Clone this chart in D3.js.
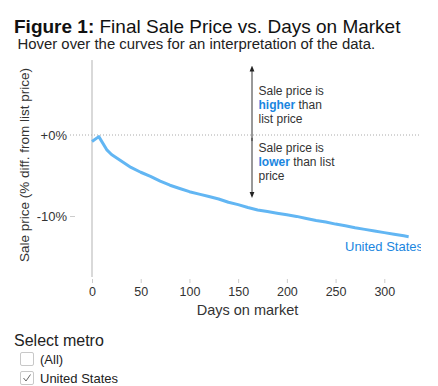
<!DOCTYPE html>
<html>
<head>
<meta charset="utf-8">
<script src="https://cdn.jsdelivr.net/npm/d3@7"></script>
<style>
  html, body { margin: 0; padding: 0; background: #fff; }
  svg { display: block; font-family: "Liberation Sans", Arial, Helvetica, sans-serif; }
</style>
</head>
<body>
<svg id="chart" width="438" height="386"></svg>
<script>
// ---- data ----
const seriesName = "United States";
const days = [0, 7, 15, 20, 30, 40, 50, 60, 70, 80, 90, 100, 110, 120, 130, 140, 150, 160, 170, 180, 190, 200, 210, 220, 230, 240, 250, 260, 270, 280, 290, 300, 310, 320, 325];
const pctDiff = [-0.8, -0.2, -1.8, -2.4, -3.2, -4.0, -4.6, -5.1, -5.7, -6.2, -6.6, -7.0, -7.3, -7.6, -7.9, -8.3, -8.6, -8.95, -9.25, -9.45, -9.65, -9.85, -10.05, -10.3, -10.55, -10.75, -11.0, -11.2, -11.45, -11.65, -11.85, -12.05, -12.25, -12.45, -12.55];
const xTicks = [0, 50, 100, 150, 200, 250, 300];
const yTicks = [0, -10];
const metroOptions = ["(All)", "United States"];
const metroChecked = [false, true];

const svg = d3.select("#chart");

// ---- scales ----
const x = d3.scaleLinear().domain([0, 300]).range([92, 384.3]);
const y = d3.scaleLinear().domain([0, -10]).range([135, 216]);
const yTop = 9.25;

// ---- title ----
const title = svg.append("text").attr("x", 14).attr("y", 33)
  .style("font-size", "19px").attr("fill", "#111");
title.append("tspan").style("font-weight", "bold").text("Figure 1:");
title.append("tspan").text(" Final Sale Price vs. Days on Market");

svg.append("text").attr("x", 17.5).attr("y", 48.5)
  .style("font-size", "14.9px").attr("fill", "#222")
  .text("Hover over the curves for an interpretation of the data.");

// ---- vertical axis line ----
svg.append("line")
  .attr("x1", x(0)).attr("x2", x(0))
  .attr("y1", y(yTop)).attr("y2", 277)
  .attr("stroke", "#b3b3b3").attr("stroke-width", 1);

// ---- zero reference line ----
svg.append("line")
  .attr("x1", 70).attr("x2", 421)
  .attr("y1", y(0)).attr("y2", y(0))
  .attr("stroke", "#aaa").attr("stroke-width", 1)
  .attr("stroke-dasharray", "1,2");

// ---- y axis ----
const yAxis = svg.append("g").attr("transform", "translate(75,0)")
  .call(d3.axisLeft(y).tickValues(yTicks).tickSize(5).tickPadding(3)
    .tickFormat(d => (d >= 0 ? "+" : "") + d + "%"));
yAxis.select(".domain").remove();
yAxis.selectAll(".tick line").attr("stroke", "#ccc")
  .attr("opacity", d => d === 0 ? 0 : 1);
yAxis.selectAll(".tick text").style("font-size", "13px")
  .style("font-family", "'Liberation Sans', Arial, sans-serif").attr("fill", "#333");

svg.append("text")
  .attr("transform", "translate(29," + 165 + ") rotate(-90)")
  .attr("text-anchor", "middle")
  .style("font-size", "13.5px").attr("fill", "#333")
  .text("Sale price (% diff. from list price)");

// ---- x axis ----
const xAxis = svg.append("g").attr("transform", "translate(0,279)")
  .call(d3.axisBottom(x).tickValues(xTicks).tickSize(4).tickPadding(4.5));
xAxis.select(".domain").remove();
xAxis.selectAll(".tick line").attr("stroke", "#ccc");
xAxis.selectAll(".tick text").style("font-size", "12.5px")
  .style("font-family", "'Liberation Sans', Arial, sans-serif").attr("fill", "#333");

svg.append("text").attr("x", 247.5).attr("y", 315)
  .attr("text-anchor", "middle")
  .style("font-size", "14.5px").attr("fill", "#333")
  .text("Days on market");

// ---- arrows & annotations ----
const defs = svg.append("defs");
defs.append("marker").attr("id", "arrowhead")
  .attr("viewBox", "0 0 10 10").attr("refX", 5).attr("refY", 5)
  .attr("markerWidth", 6).attr("markerHeight", 6)
  .attr("orient", "auto-start-reverse")
  .append("path").attr("d", "M0,1 L10,5 L0,9 Z").attr("fill", "#222");

const ax = 252;
svg.append("line").attr("x1", ax).attr("x2", ax)
  .attr("y1", y(-0.75)).attr("y2", y(8.2))
  .attr("stroke", "#333").attr("stroke-width", 1)
  .attr("marker-end", "url(#arrowhead)");
svg.append("line").attr("x1", ax).attr("x2", ax)
  .attr("y1", y(-0.35)).attr("y2", y(-7.4))
  .attr("stroke", "#333").attr("stroke-width", 1)
  .attr("marker-end", "url(#arrowhead)");

function annot(lines, y0) {
  const t = svg.append("text").attr("x", 258.5).attr("y", y0)
    .style("font-size", "12px").attr("fill", "#333");
  lines.forEach((parts, i) => {
    parts.forEach((p, j) => {
      const ts = t.append("tspan").text(p.t);
      if (j === 0) ts.attr("x", 258.5).attr("dy", i === 0 ? 0 : 14);
      if (p.b) ts.style("font-weight", "bold").attr("fill", "#1a86e0");
    });
  });
}
annot([[{t: "Sale price is"}], [{t: "higher", b: true}, {t: " than"}], [{t: "list price"}]], 94.5);
annot([[{t: "Sale price is"}], [{t: "lower", b: true}, {t: " than list"}], [{t: "price"}]], 152);

// ---- series line ----
const data = days.map((d, i) => ({ d, v: pctDiff[i] }));
svg.append("path").datum(data)
  .attr("fill", "none").attr("stroke", "#62b6f3")
  .attr("stroke-width", 3).attr("stroke-linejoin", "round")
  .attr("d", d3.line().x(p => x(p.d)).y(p => y(p.v)));

defs.append("clipPath").attr("id", "labelclip")
  .append("rect").attr("x", 0).attr("y", 0).attr("width", 421).attr("height", 386);
svg.append("text").attr("x", 345).attr("y", 251)
  .attr("clip-path", "url(#labelclip)")
  .style("font-size", "13px").attr("fill", "#1a86e0")
  .text(seriesName);

// ---- metro selector ----
svg.append("text").attr("x", 14).attr("y", 346)
  .style("font-size", "16px").attr("fill", "#222").text("Select metro");

const items = svg.selectAll("g.metro").data(metroOptions).join("g")
  .attr("class", "metro")
  .attr("transform", (d, i) => "translate(20," + (352 + i * 19) + ")");
items.append("rect").attr("x", 0.5).attr("y", 0.5).attr("width", 13).attr("height", 13)
  .attr("rx", 1.5).attr("fill", "#fff").attr("stroke", "#c8c8c8");
items.filter((d, i) => metroChecked[i]).append("path")
  .attr("d", "M3.5,7 L6,10 L10.5,3.5").attr("fill", "none")
  .attr("stroke", "#666").attr("stroke-width", 1);
items.append("text").attr("x", 20).attr("y", 11.5)
  .style("font-size", "13px").attr("fill", "#222").text(d => d);
</script>
</body>
</html>
